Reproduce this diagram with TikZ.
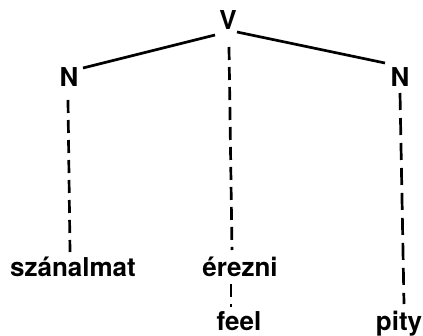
\documentclass[tikz,border=0pt]{standalone}
\usepackage{fontspec}
\setmainfont{TeX Gyre Heros}
\begin{document}
\begin{tikzpicture}[x=1pt,y=-1pt,
  lbl/.style={inner sep=0pt,font=\fontsize{26}{28}\selectfont\bfseries},
  branch/.style={line width=2.7pt},
  dashline/.style={line width=2.7pt,dash pattern=on 13pt off 7pt}]
\useasboundingbox (0,0) rectangle (423,335);
\node[lbl] (V) at (228,20) {V};
\node[lbl] (N1) at (69,77) {N};
\node[lbl] (N2) at (400,77) {N};
\node[lbl,anchor=base] (s) at (73,276) {szánalmat};
\node[lbl,anchor=base] (e) at (240,276) {érezni};
\node[lbl,anchor=base] (f) at (239,330) {feel};
\node[lbl,anchor=base] (p) at (399,330) {pity};
\coordinate (Vl) at (215,35);
\coordinate (Vr) at (237,32);
\coordinate (N1r) at (83,68);
\coordinate (N2l) at (385,63);
\draw[branch] (N1r) -- (Vl);
\draw[branch] (Vr) -- (N2l);
\draw[dashline] (68,100) -- (70,252);
\draw[dashline] (229,47) -- (232,250);
\draw[dashline] (231,284) -- (231,307);
\draw[dashline,dash pattern=on 17pt off 8pt] (400,93) -- (404,304);
\end{tikzpicture}
\end{document}
